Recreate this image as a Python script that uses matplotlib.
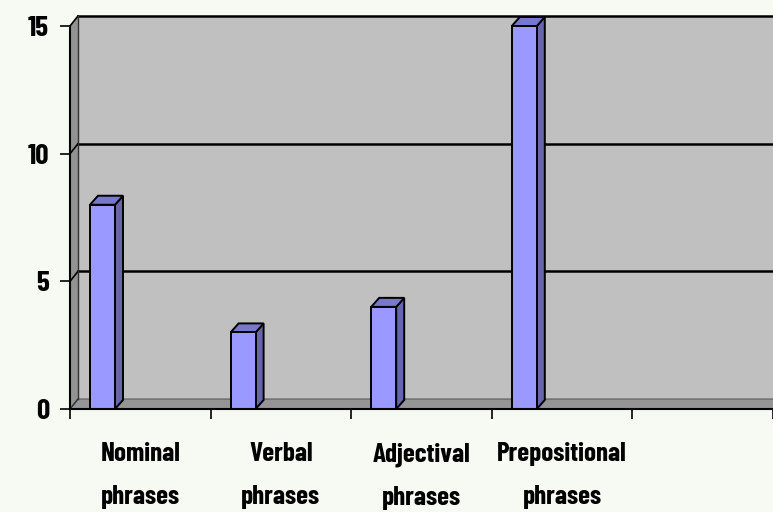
import matplotlib
matplotlib.use('Agg')
import matplotlib.pyplot as plt
from matplotlib.patches import Polygon
import numpy as np

categories = ['Nominal\nphrases', 'Verbal\nphrases', 'Adjectival\nphrases', 'Prepositional\nphrases', '']
values = [8, 3, 4, 15, 0]
yticks = [0, 5, 10, 15]

W, H = 773, 512
fig = plt.figure(figsize=(W / 100, H / 100), dpi=100)
fig.patch.set_facecolor('#F7FAF2')

# axes box in pixels: front axis corner at (70, 409), top tick at y=26
left, bottom, right, top = 70, 409, 773, 26
ax = fig.add_axes([left / W, (H - bottom) / H, (right - left) / W, (bottom - top) / H])
ax.set_xlim(0, len(categories))
ax.set_ylim(0, 15)
ax.patch.set_alpha(0)

# 3D depth expressed in data units
px_x = (right - left) / len(categories)
px_y = (bottom - top) / 15
dx, dy = 8 / px_x, 10 / px_y
n = len(categories)

# back wall, side wall and floor
ax.add_patch(Polygon([(dx, dy), (n + dx, dy), (n + dx, 15 + dy), (dx, 15 + dy)],
                     closed=True, fc='#C0C0C0', ec='none', clip_on=False, zorder=0))
ax.add_patch(Polygon([(0, 0), (dx, dy), (dx, 15 + dy), (0, 15)],
                     closed=True, fc='#939393', ec='none', clip_on=False, zorder=0.5))
ax.add_patch(Polygon([(0, 0), (n, 0), (n + dx, dy), (dx, dy)],
                     closed=True, fc='#959595', ec='#5A5A5A', lw=0.8, clip_on=False, zorder=0.5))

# gridlines on the wall
for v in yticks[1:]:
    ax.plot([dx, n + dx], [v + dy, v + dy], color='black', lw=1.8, clip_on=False, zorder=1)
    ax.plot([0, dx], [v, v + dy], color='black', lw=1.2, clip_on=False, zorder=1)
ax.plot([dx, dx], [dy, 15 + dy], color='#333333', lw=1.0, clip_on=False, zorder=1)
ax.plot([0, dx], [0, dy], color='#333333', lw=1.0, clip_on=False, zorder=1)

# bars with side and top faces
bw = 25 / px_x
off = 20 / px_x
bx = np.arange(n) + off
for x0, v in zip(bx, values):
    if v <= 0:
        continue
    x1 = x0 + bw
    ax.add_patch(Polygon([(x1, 0), (x1 + dx, dy * 0.9), (x1 + dx, v + dy * 0.9), (x1, v)],
                         closed=True, fc='#6666A8', ec='black', lw=1.4, clip_on=False, zorder=2))
    ax.add_patch(Polygon([(x0, v), (x1, v), (x1 + dx, v + dy * 0.9), (x0 + dx, v + dy * 0.9)],
                         closed=True, fc='#7878CC', ec='black', lw=1.4, clip_on=False, zorder=2))
ax.bar(bx, values, width=bw, align='edge', color='#9999FF', edgecolor='black',
       linewidth=1.4, zorder=3, clip_on=False)

# axes lines and ticks
for s in ['top', 'right']:
    ax.spines[s].set_visible(False)
for s in ['left', 'bottom']:
    ax.spines[s].set_linewidth(1.5)
    ax.spines[s].set_zorder(4)

ax.set_yticks(yticks)
ax.set_yticklabels([str(t) for t in yticks])
ax.set_xticks(np.arange(n + 1))
ax.set_xticklabels([])
ax.set_xticks(np.arange(n) + 0.5, minor=True)
ax.set_xticklabels(categories, minor=True)
ax.tick_params(axis='y', length=7, width=1.2, pad=8, labelsize=21)
ax.tick_params(axis='x', which='major', length=7, width=1.2, direction='out')
ax.tick_params(axis='x', which='minor', length=0, pad=24, labelsize=19.5)
for lbl in ax.get_yticklabels() + ax.get_xticklabels(minor=True):
    lbl.set_fontfamily(['Barlow Condensed', 'DejaVu Sans'])
    lbl.set_fontweight(700)
for lbl in ax.get_xticklabels(minor=True):
    lbl.set_linespacing(2.0)

fig.savefig('out.png', dpi=100, facecolor=fig.get_facecolor())
